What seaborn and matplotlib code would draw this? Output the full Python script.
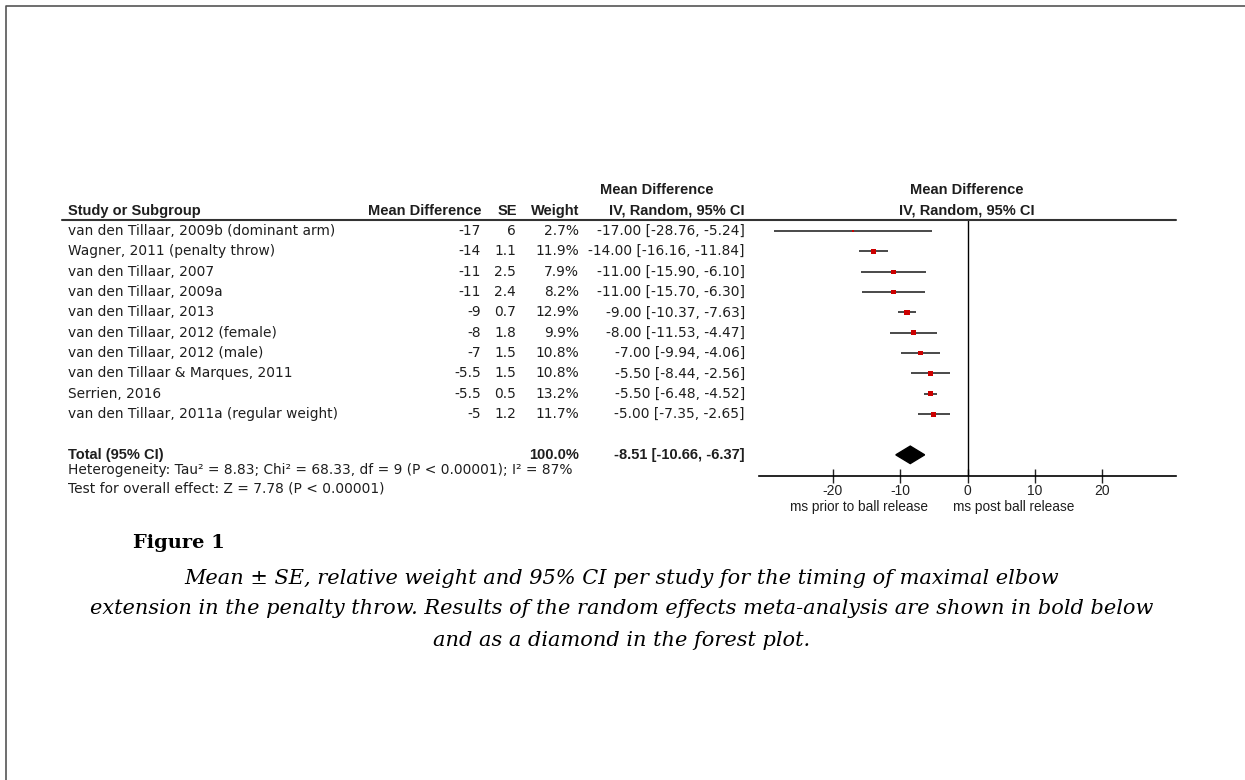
import numpy as np
import pandas as pd
import matplotlib
matplotlib.use('Agg')
import matplotlib.pyplot as plt
import matplotlib.transforms as mtransforms
import seaborn as sns

# ---- data ----
studies = [
    'van den Tillaar, 2009b (dominant arm)',
    'Wagner, 2011 (penalty throw)',
    'van den Tillaar, 2007',
    'van den Tillaar, 2009a',
    'van den Tillaar, 2013',
    'van den Tillaar, 2012 (female)',
    'van den Tillaar, 2012 (male)',
    'van den Tillaar & Marques, 2011',
    'Serrien, 2016',
    'van den Tillaar, 2011a (regular weight)',
]
mean_diff = [-17, -14, -11, -11, -9, -8, -7, -5.5, -5.5, -5]
se = [6, 1.1, 2.5, 2.4, 0.7, 1.8, 1.5, 1.5, 0.5, 1.2]
weight = [2.7, 11.9, 7.9, 8.2, 12.9, 9.9, 10.8, 10.8, 13.2, 11.7]
ci_low = [-28.76, -16.16, -15.90, -15.70, -10.37, -11.53, -9.94, -8.44, -6.48, -7.35]
ci_high = [-5.24, -11.84, -6.10, -6.30, -7.63, -4.47, -4.06, -2.56, -4.52, -2.65]
total_md, total_low, total_high = -8.51, -10.66, -6.37
x_ticks = [-20, -10, 0, 10, 20]

heterogeneity = 'Heterogeneity: Tau\u00b2 = 8.83; Chi\u00b2 = 68.33, df = 9 (P < 0.00001); I\u00b2 = 87%'
overall = 'Test for overall effect: Z = 7.78 (P < 0.00001)'
caption = [
    'Mean \u00b1 SE, relative weight and 95% CI per study for the timing of maximal elbow',
    'extension in the penalty throw. Results of the random effects meta-analysis are shown in bold below',
    'and as a diamond in the forest plot.',
]

df = pd.DataFrame({'study': studies, 'md': mean_diff, 'se': se, 'weight': weight,
                   'lo': ci_low, 'hi': ci_high})
df['row'] = np.arange(1, len(df) + 1)
total_row = len(df) + 2

sns.set_style('white')
plt.rcParams['font.family'] = ['Liberation Sans', 'DejaVu Sans']

W, H = 1245, 780
fig = plt.figure(figsize=(W / 100, H / 100), dpi=100)
px = mtransforms.Affine2D().scale(1 / W, -1 / H).translate(0, 1) + fig.transFigure

# forest plot axes
ax = fig.add_axes([759 / W, 1 - 476 / H, 417 / W, 256 / H])
ax.set_xlim(-31, 31)
ax.set_ylim(13.04, 0.46)

ax.hlines(df['row'], df['lo'], df['hi'], color='#2a2a2a', lw=1.2, zorder=2)
sns.scatterplot(data=df, x='md', y='row', size='weight', sizes=(2.7 * 1.1, 13.2 * 1.1),
                size_norm=(2.7, 13.2), marker='s', color='#cc0000', edgecolor='none',
                legend=False, ax=ax, zorder=3)
ax.fill([total_low, total_md, total_high, total_md],
        [total_row, total_row - 0.43, total_row, total_row + 0.43], color='black', zorder=3)
ax.axvline(0, color='black', lw=1)

for s in ['top', 'left', 'right']:
    ax.spines[s].set_visible(False)
ax.spines['bottom'].set_color('black')
ax.spines['bottom'].set_linewidth(1.2)
ax.set_xticks(x_ticks)
ax.set_xticklabels([str(t) for t in x_ticks])
ax.set_yticks([])
ax.tick_params(axis='x', direction='inout', length=10, width=1, labelsize=10,
               pad=1, colors='#222222', bottom=True)
ax.set_xlabel('')
ax.set_ylabel('')

# table text: x in figure pixels, y in row units
tr = mtransforms.blended_transform_factory(
    mtransforms.Affine2D().scale(1 / W, 1) + fig.transFigure, ax.transData)
col = '#1e1e1e'

def cell(x, y, s, ha='right', bold=False):
    if bold:
        fig.text(x, y, s, transform=tr, ha=ha, va='center', fontsize=10.5, color=col,
                 fontweight='bold', family='Liberation Sans', clip_on=False)
    else:
        fig.text(x, y, s, transform=tr, ha=ha, va='center', fontsize=9.9, color=col,
                 family='DejaVu Sans', clip_on=False)

cell(68, 0, 'Study or Subgroup', ha='left', bold=True)
cell(482, 0, 'Mean Difference', bold=True)
cell(517, 0, 'SE', bold=True)
cell(579, 0, 'Weight', bold=True)
cell(657, -1, 'Mean Difference', ha='center', bold=True)
cell(745, 0, 'IV, Random, 95% CI', bold=True)
cell(967, -1, 'Mean Difference', ha='center', bold=True)
cell(967, 0, 'IV, Random, 95% CI', ha='center', bold=True)

for _, r in df.iterrows():
    cell(68, r['row'], r['study'], ha='left')
    cell(481, r['row'], f"{r['md']:g}")
    cell(516, r['row'], f"{r['se']:g}")
    cell(579, r['row'], f"{r['weight']:.1f}%")
    cell(745, r['row'], f"{r['md']:.2f} [{r['lo']:.2f}, {r['hi']:.2f}]")

cell(68, total_row, 'Total (95% CI)', ha='left', bold=True)
cell(579, total_row, f"{sum(weight):.1f}%", bold=True)
cell(745, total_row, f"{total_md:.2f} [{total_low:.2f}, {total_high:.2f}]", bold=True)
cell(68, 12.74, heterogeneity, ha='left')
cell(68, 13.63, overall, ha='left')

# header rule
fig.add_artist(plt.Line2D([62, 1176], [220, 220], transform=px, color='#333333', lw=1.5))

fig.text(859, 507, 'ms prior to ball release', transform=px, ha='center', va='center',
         fontsize=9.8, color=col)
fig.text(1014, 507, 'ms post ball release', transform=px, ha='center', va='center',
         fontsize=9.8, color=col)

# caption
fig.text(133, 543, 'Figure 1', transform=px, ha='left', va='center', fontsize=14,
         fontweight='bold', family='DejaVu Serif', color='black')
for i, line in enumerate(caption):
    fig.text(622, 578 + 31 * i, line, transform=px, ha='center', va='center', fontsize=15,
             style='italic', family='DejaVu Serif', color='black')

# page border (top and left)
fig.add_artist(plt.Line2D([6, 6, W], [H, 6, 6], transform=px, color='#555555', lw=1.2))

fig.savefig('out.png', dpi=100)
